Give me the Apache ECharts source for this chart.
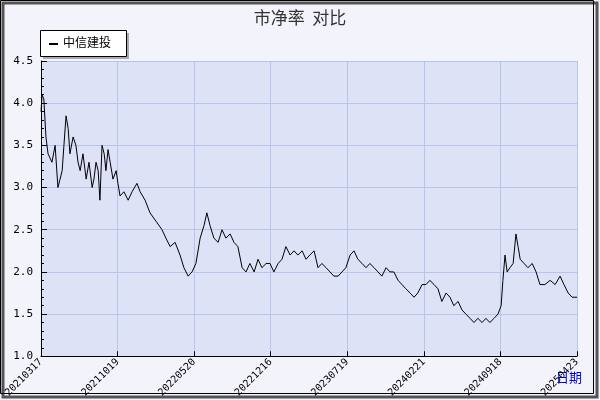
<!DOCTYPE html>
<html><head><meta charset="utf-8">
<script src="https://cdn.jsdelivr.net/npm/echarts@6/dist/echarts.min.js"></script>
<style>body{margin:0}#c{width:600px;height:400px}</style></head>
<body><div id="c"></div>
<script>
// 市净率 中信建投: day offset from 20210317 and value
var days = [0,3,8,14,20,31,40,48,54,60,65,71,77,82,91,99,105,111,119,128,136,145,150,156,162,167,173,179,184,190,196,204,213,218,224,235,247,258,272,281,295,309,326,343,354,366,380,394,405,417,428,439,451,462,470,479,490,502,513,524,536,547,558,570,581,592,604,615,626,638,649,660,672,683,694,706,717,728,740,751,762,774,785,796,808,819,830,842,853,864,876,887,898,910,921,932,944,955,966,978,989,1000,1012,1023,1034,1046,1057,1068,1080,1091,1102,1114,1125,1136,1148,1159,1170,1182,1193,1204,1216,1227,1238,1250,1261,1272,1284,1295,1304,1309,1315,1321,1329,1338,1346,1352,1358,1369,1380,1392,1403,1414,1428,1443,1457,1471,1482,1494,1505,1519];
var pb = [3.9,4.1,4.05,3.6,3.4,3.3,3.5,3.0,3.1,3.2,3.5,3.85,3.7,3.4,3.6,3.5,3.3,3.2,3.4,3.1,3.3,3.0,3.1,3.3,3.2,2.85,3.5,3.4,3.2,3.45,3.3,3.1,3.2,3.05,2.9,2.95,2.85,2.95,3.05,2.95,2.85,2.7,2.6,2.5,2.4,2.3,2.35,2.2,2.05,1.95,2.0,2.1,2.4,2.55,2.7,2.55,2.4,2.35,2.5,2.4,2.45,2.35,2.3,2.05,2.0,2.1,2.0,2.15,2.05,2.1,2.1,2.0,2.1,2.15,2.3,2.2,2.25,2.2,2.25,2.15,2.2,2.25,2.05,2.1,2.05,2.0,1.95,1.95,2.0,2.05,2.2,2.25,2.15,2.1,2.05,2.1,2.05,2.0,1.95,2.05,2.0,2.0,1.9,1.85,1.8,1.75,1.7,1.75,1.85,1.85,1.9,1.85,1.8,1.65,1.75,1.7,1.6,1.65,1.55,1.5,1.45,1.4,1.45,1.4,1.45,1.4,1.45,1.5,1.6,1.9,2.2,2.0,2.05,2.1,2.45,2.3,2.15,2.1,2.05,2.1,2.0,1.85,1.85,1.9,1.85,1.95,1.85,1.75,1.7,1.7];
var tickLabels = ['20210317','20211019','20220520','20221216','20230719','20240221','20240918','20250423'];

var pts = [];
for (var i = 0; i < days.length; i++) pts.push([days[i], pb[i]]);

var chart = echarts.init(document.getElementById('c'));
chart.setOption({
  backgroundColor: '#f3f3fb',
  animation: false,
  title: {text: '市净率  对比', left: 'center', top: 4,
    textStyle: {fontSize: 17, fontWeight: 'normal', color: '#333', fontFamily: 'Noto Sans CJK SC'}},
  legend: {show: false},
  graphic: [
    {type: 'rect', shape: {x: 3, y: 3, width: 594, height: 394}, style: {fill: 'none', stroke: '#555', lineWidth: 3}, z: -1},
    {type: 'rect', shape: {x: 0.5, y: 0.5, width: 593, height: 393}, style: {fill: 'none', stroke: '#000', lineWidth: 1}},
    {type: 'rect', shape: {x: 43, y: 33, width: 86, height: 26}, style: {fill: '#aaa'}},
    {type: 'rect', shape: {x: 40.5, y: 30.5, width: 86, height: 26}, style: {fill: '#fff', stroke: '#000', lineWidth: 1}},
    {type: 'line', shape: {x1: 49, y1: 44, x2: 58, y2: 44}, style: {stroke: '#000', lineWidth: 2}},
    {type: 'text', left: 63, top: 36, style: {text: '中信建投', fontSize: 12, fill: '#000', fontFamily: 'Noto Sans CJK SC'}},
    {type: 'text', left: 556, top: 371, style: {text: '日期', fontSize: 13, fill: '#0000ee', fontFamily: 'Noto Sans CJK SC'}}
  ],
  grid: {left: 41, right: 23, top: 61, bottom: 40, show: true, backgroundColor: '#dde2f7', borderWidth: 0},
  xAxis: {
    type: 'value', min: 0, max: 1519, interval: 217,
    axisLine: {lineStyle: {color: '#000'}},
    axisTick: {inside: true, length: 5, lineStyle: {color: '#000'}},
    splitLine: {lineStyle: {color: '#b8c4ea'}},
    axisLabel: {rotate: 45, fontSize: 10, color: '#000', margin: 4, fontFamily: 'DejaVu Sans Mono',
      formatter: function (v) { return tickLabels[Math.round(v / 217)] || ''; }}
  },
  yAxis: {
    type: 'value', min: 1.0, max: 4.5, interval: 0.5,
    axisLine: {show: true, lineStyle: {color: '#000'}},
    axisTick: {inside: true, length: 6, lineStyle: {color: '#000'}},
    minorTick: {show: true, splitNumber: 5, length: 3, lineStyle: {color: '#000'}},
    splitLine: {lineStyle: {color: '#b8c4ea'}},
    axisLabel: {fontSize: 11, color: '#000', fontFamily: 'DejaVu Sans Mono',
      formatter: function (v) { return v.toFixed(1); }}
  },
  series: [{name: '中信建投', type: 'line', data: pts, symbol: 'none',
    lineStyle: {color: '#000', width: 1}}]
});
</script></body></html>
